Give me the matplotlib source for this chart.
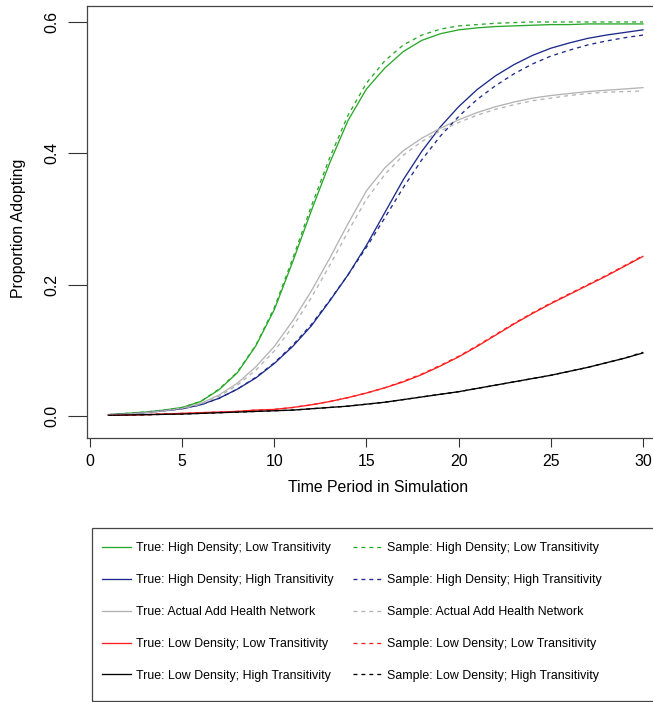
import matplotlib
matplotlib.use("Agg")
import matplotlib.pyplot as plt
from matplotlib.patches import Rectangle

plt.rcParams['font.family'] = ['Liberation Sans', 'DejaVu Sans']

# ---------------- data ----------------
periods = list(range(1, 31))

green_true = [0.002, 0.004, 0.006, 0.009, 0.013, 0.022, 0.040, 0.066, 0.107, 0.162,
              0.235, 0.312, 0.385, 0.450, 0.498, 0.530, 0.555, 0.572, 0.582, 0.588,
              0.591, 0.593, 0.594, 0.595, 0.596, 0.596, 0.597, 0.597, 0.597, 0.597]
green_sample = [0.002, 0.004, 0.006, 0.009, 0.013, 0.022, 0.041, 0.067, 0.108, 0.165,
                0.240, 0.319, 0.393, 0.458, 0.507, 0.541, 0.565, 0.580, 0.589, 0.594,
                0.596, 0.598, 0.599, 0.600, 0.600, 0.600, 0.600, 0.600, 0.600, 0.600]

blue_true = [0.002, 0.003, 0.005, 0.008, 0.011, 0.017, 0.027, 0.041, 0.058, 0.080,
             0.106, 0.137, 0.175, 0.215, 0.260, 0.310, 0.360, 0.403, 0.440, 0.471,
             0.497, 0.518, 0.535, 0.549, 0.560, 0.568, 0.575, 0.580, 0.584, 0.588]
blue_sample = [0.002, 0.003, 0.005, 0.008, 0.011, 0.017, 0.027, 0.041, 0.059, 0.081,
               0.108, 0.139, 0.176, 0.215, 0.257, 0.302, 0.348, 0.390, 0.426, 0.456,
               0.482, 0.503, 0.521, 0.536, 0.548, 0.557, 0.565, 0.571, 0.576, 0.580]

gray_true = [0.002, 0.003, 0.005, 0.008, 0.012, 0.019, 0.032, 0.050, 0.075, 0.106,
             0.145, 0.190, 0.240, 0.293, 0.343, 0.378, 0.404, 0.423, 0.438, 0.451,
             0.462, 0.471, 0.478, 0.484, 0.488, 0.491, 0.494, 0.496, 0.498, 0.500]
gray_sample = [0.002, 0.003, 0.005, 0.008, 0.011, 0.018, 0.030, 0.047, 0.070, 0.099,
               0.136, 0.180, 0.229, 0.281, 0.330, 0.368, 0.397, 0.418, 0.434, 0.447,
               0.458, 0.467, 0.474, 0.480, 0.484, 0.488, 0.491, 0.493, 0.494, 0.495]

red_true = [0.001, 0.0015, 0.002, 0.003, 0.004, 0.005, 0.006, 0.007, 0.009, 0.010,
            0.013, 0.017, 0.022, 0.028, 0.035, 0.043, 0.052, 0.063, 0.076, 0.090,
            0.106, 0.123, 0.140, 0.156, 0.171, 0.185, 0.199, 0.213, 0.228, 0.243]
red_sample = [0.001, 0.0015, 0.002, 0.003, 0.004, 0.005, 0.006, 0.007, 0.009, 0.010,
              0.013, 0.017, 0.022, 0.028, 0.035, 0.043, 0.053, 0.064, 0.077, 0.091,
              0.107, 0.124, 0.141, 0.157, 0.172, 0.186, 0.200, 0.214, 0.229, 0.244]

black_true = [0.001, 0.0015, 0.002, 0.0025, 0.003, 0.004, 0.005, 0.006, 0.007, 0.008,
              0.009, 0.011, 0.013, 0.015, 0.018, 0.021, 0.025, 0.029, 0.033, 0.037,
              0.042, 0.047, 0.052, 0.057, 0.062, 0.068, 0.074, 0.081, 0.088, 0.096]
black_sample = [0.001, 0.0015, 0.002, 0.0025, 0.003, 0.004, 0.005, 0.006, 0.007, 0.008,
                0.009, 0.011, 0.013, 0.015, 0.018, 0.021, 0.025, 0.029, 0.033, 0.037,
                0.042, 0.047, 0.052, 0.057, 0.062, 0.068, 0.074, 0.081, 0.088, 0.097]

true_labels = ["True: High Density; Low Transitivity",
               "True: High Density; High Transitivity",
               "True: Actual Add Health Network",
               "True: Low Density; Low Transitivity",
               "True: Low Density; High Transitivity"]
sample_labels = ["Sample: High Density; Low Transitivity",
                 "Sample: High Density; High Transitivity",
                 "Sample: Actual Add Health Network",
                 "Sample: Low Density; Low Transitivity",
                 "Sample: Low Density; High Transitivity"]
colors = ['#2aa82a', '#1c2a8a', '#b4b4b4', '#ff1e1e', '#000000']

x_ticks = [0, 5, 10, 15, 20, 25, 30]
y_ticks = [0.0, 0.2, 0.4, 0.6]
y_tick_labels = ["0.0", "0.2", "0.4", "0.6"]

# ---------------- figure ----------------
W, H = 653, 702
fig = plt.figure(figsize=(W / 100, H / 100), dpi=100)
fig.patch.set_facecolor('white')

ax_left, ax_right, ax_top, ax_bottom = 87, 664.4, 6, 438
ax = fig.add_axes([ax_left / W, 1 - ax_bottom / H,
                   (ax_right - ax_left) / W, (ax_bottom - ax_top) / H])

trues = [green_true, blue_true, gray_true, red_true, black_true]
samples = [green_sample, blue_sample, gray_sample, red_sample, black_sample]

true_lines = []
for vals, c, lab in zip(trues, colors, true_labels):
    ln, = ax.plot(periods, vals, color=c, lw=0.95, label=lab,
                  solid_joinstyle='round')
    true_lines.append(ln)
sample_lines = []
for vals, c, lab in zip(samples, colors, sample_labels):
    ln, = ax.plot(periods, vals, color=c, lw=0.95, linestyle=(0, (3, 3)), label=lab)
    sample_lines.append(ln)

ax.set_xlim(-0.163, 31.163)
ax.set_ylim(-0.0335, 0.6243)
ax.set_xticks(x_ticks)
ax.set_yticks(y_ticks)
ax.set_yticklabels(y_tick_labels)

for sp in ax.spines.values():
    sp.set_color('#444444')
    sp.set_linewidth(0.9)

ax.tick_params(axis='x', length=6.5, width=0.8, color='#333333', pad=5.0,
               labelsize=11.4, labelcolor='black')
ax.tick_params(axis='y', length=13.7, width=0.8, color='#333333', pad=6.0,
               labelsize=11.4, labelcolor='black', labelrotation=90)
for lab in ax.get_yticklabels():
    lab.set_va('center')

fig.text(378 / W, 1 - 488 / H, "Time Period in Simulation", ha='center', va='center',
         fontsize=11.4)
fig.text(19 / W, 1 - 228 / H, "Proportion Adopting", ha='center', va='center',
         rotation=90, fontsize=11.4)

# ---------------- legend ----------------
handles = true_lines + sample_lines
labels = true_labels + sample_labels
leg = fig.legend(handles, labels, ncol=2, loc='upper left',
                 bbox_to_anchor=(102 / W, 1 - 542.5 / H),
                 bbox_transform=fig.transFigure,
                 frameon=False, fontsize=8.9, borderpad=0, borderaxespad=0,
                 handlelength=2.35, handletextpad=0.42, columnspacing=1.55,
                 labelspacing=1.6)

fig.patches.append(Rectangle((92 / W, 1 - 700.5 / H), (680 - 92) / W, (700.5 - 528) / H,
                             transform=fig.transFigure, fill=False,
                             edgecolor='#444444', linewidth=0.9))

fig.savefig("out.png", dpi=100)
